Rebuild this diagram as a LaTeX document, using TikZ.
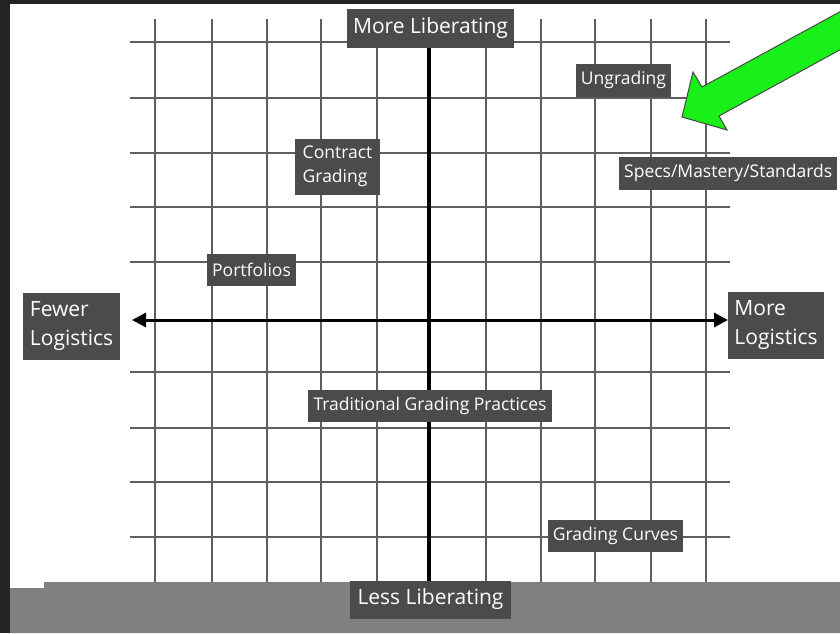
\documentclass[tikz,border=0pt]{standalone}
\usepackage{fontspec}
\setmainfont{Open Sans}
\usetikzlibrary{arrows.meta}
\definecolor{boxgray}{RGB}{75,75,75}
\definecolor{gridgray}{RGB}{95,95,95}
\definecolor{bandgray}{RGB}{128,128,128}
\definecolor{framedark}{RGB}{35,35,38}
\definecolor{arrowgreen}{RGB}{25,240,25}
\definecolor{arrowedge}{RGB}{70,70,70}
\begin{document}
\begin{tikzpicture}[x=1pt,y=-1pt,
  lbl/.style={fill=boxgray,text=white,inner sep=0pt,font=\fontsize{17.5}{24}\selectfont},
  biglbl/.style={lbl,font=\fontsize{21}{29}\selectfont},
  gridline/.style={draw=gridgray,line width=2.2pt},
  axisline/.style={draw=black,line width=3pt},
  axtip/.tip={Triangle[length=14pt,width=14pt]}]
\useasboundingbox (0,0) rectangle (840,633);
\begin{scope}
\clip (0,0) rectangle (840,633);
\fill[white] (0,0) rectangle (840,633);
% grid
\foreach \x in {155,212,267,321,377,486,541,595,651,706}
  \draw[gridline] (\x,19) -- (\x,582);
\foreach \y in {42,98,153,207,262,372,428,482,537}
  \draw[gridline] (130,\y) -- (730,\y);
% axes
\coordinate (xl) at (132,320);
\coordinate (xr) at (728,320);
\coordinate (yt) at (429,45);
\coordinate (yb) at (429,582);
\draw[axisline,axtip-axtip] (xl) -- (xr);
\draw[draw=black,line width=3.5pt] (yt) -- (yb);
% bottom band
\fill[bandgray] (44,582) -- (840,582) -- (840,633) -- (10,633) -- (10,588) -- (44,588) -- cycle;
% labels
\node[biglbl,minimum width=167pt,minimum height=39pt] (ml) at (430.5,28) {More Liberating};
\node[biglbl,minimum width=161pt,minimum height=38pt] (ll) at (430.5,599.5) {Less Liberating};
\node[biglbl,align=left,minimum width=97pt,minimum height=67pt] (fl) at (71.5,326) {Fewer\\Logistics};
\node[biglbl,align=left,minimum width=96pt,minimum height=67pt] (mlog) at (776,325) {More\\Logistics};
\node[lbl,minimum width=95pt,minimum height=33pt] (ung) at (623.5,80) {Ungrading};
\node[lbl,align=left,minimum width=85pt,minimum height=56pt] (cg) at (337.5,166.5) {Contract\\Grading};
\node[lbl,anchor=west,minimum height=33pt,inner xsep=5pt] (specs) at (619,173) {Specs/Mastery/Standards};
\node[lbl,minimum width=89pt,minimum height=32pt] (port) at (251.5,269.5) {Portfolios};
\node[lbl,minimum width=244pt,minimum height=32pt] (tgp) at (430,405.5) {Traditional Grading Practices};
\node[lbl,minimum width=135pt,minimum height=32pt] (gc) at (615.5,535.5) {Grading Curves};
% green arrow
\filldraw[fill=arrowgreen,draw=arrowedge,line width=1pt,line join=miter]
  (682,117) -- (693,72) -- (702,87) -- (900,-21) -- (900,17) -- (719,116) -- (727,130) -- cycle;
% frame
\fill[framedark] (0,0) rectangle (10,633);
\fill[framedark] (0,0) rectangle (840,4);
\end{scope}
\end{tikzpicture}
\end{document}
